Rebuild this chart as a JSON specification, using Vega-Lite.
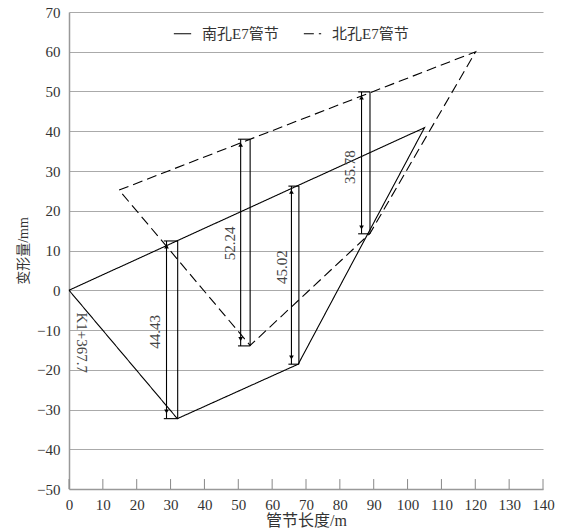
{
  "$schema": "https://vega.github.io/schema/vega-lite/v6.json",
  "width": 474,
  "height": 477,
  "autosize": "none",
  "padding": {"left": 69, "top": 12, "right": 22, "bottom": 41},
  "background": "white",
  "config": {
    "view": {"stroke": null},
    "font": "Liberation Serif, Noto Sans CJK SC",
    "axis": {"labelFont": "Liberation Serif, Noto Sans CJK SC", "titleFont": "Liberation Serif, Noto Sans CJK SC", "labelColor": "#333", "titleColor": "#333", "titleFontWeight": "normal", "domainColor": "#999", "tickColor": "#555", "gridColor": "#aaa", "labelOverlap": false}
  },
  "datasets": {
    "outline": [
      {"series": "南孔E7管节", "i": 0, "x": 0, "y": 0},
      {"series": "南孔E7管节", "i": 1, "x": 105, "y": 40.9},
      {"series": "南孔E7管节", "i": 2, "x": 67.7, "y": -18.6},
      {"series": "南孔E7管节", "i": 3, "x": 32, "y": -32.3},
      {"series": "南孔E7管节", "i": 4, "x": 0, "y": 0},
      {"series": "北孔E7管节", "i": 0, "x": 14.8, "y": 25.2},
      {"series": "北孔E7管节", "i": 1, "x": 120.1, "y": 60},
      {"series": "北孔E7管节", "i": 2, "x": 88.9, "y": 14.3},
      {"series": "北孔E7管节", "i": 3, "x": 53.5, "y": -13.9},
      {"series": "北孔E7管节", "i": 4, "x": 14.8, "y": 25.2}
    ],
    "dims": [
      {"x": 28.8, "x2": 28.8, "y": 12.4, "y2": -32.3},
      {"x": 32.1, "x2": 32.1, "y": 12.4, "y2": -32.3},
      {"x": 28.0, "x2": 32.1, "y": 12.4, "y2": 12.4},
      {"x": 28.0, "x2": 32.1, "y": -32.3, "y2": -32.3},
      {"x": 50.7, "x2": 50.7, "y": 38.0, "y2": -14.0},
      {"x": 53.5, "x2": 53.5, "y": 38.0, "y2": -14.0},
      {"x": 49.9, "x2": 53.5, "y": 38.0, "y2": 38.0},
      {"x": 49.9, "x2": 53.5, "y": -14.0, "y2": -14.0},
      {"x": 65.7, "x2": 65.7, "y": 26.2, "y2": -18.6},
      {"x": 67.9, "x2": 67.9, "y": 26.2, "y2": -18.6},
      {"x": 64.8, "x2": 67.9, "y": 26.2, "y2": 26.2},
      {"x": 64.8, "x2": 67.9, "y": -18.6, "y2": -18.6},
      {"x": 86.4, "x2": 86.4, "y": 49.9, "y2": 14.2},
      {"x": 88.9, "x2": 88.9, "y": 49.9, "y2": 14.2},
      {"x": 85.4, "x2": 88.9, "y": 49.9, "y2": 49.9},
      {"x": 85.4, "x2": 88.9, "y": 14.2, "y2": 14.2}
    ],
    "xticks": [
      {"x": 0, "y": -50, "y2": -47.5}, {"x": 10, "y": -50, "y2": -47.5}, {"x": 20, "y": -50, "y2": -47.5},
      {"x": 30, "y": -50, "y2": -47.5}, {"x": 40, "y": -50, "y2": -47.5}, {"x": 50, "y": -50, "y2": -47.5},
      {"x": 60, "y": -50, "y2": -47.5}, {"x": 70, "y": -50, "y2": -47.5}, {"x": 80, "y": -50, "y2": -47.5},
      {"x": 90, "y": -50, "y2": -47.5}, {"x": 100, "y": -50, "y2": -47.5}, {"x": 110, "y": -50, "y2": -47.5},
      {"x": 120, "y": -50, "y2": -47.5}, {"x": 130, "y": -50, "y2": -47.5}, {"x": 140, "y": -50, "y2": -47.5}
    ],
    "arrows": [
      {"x": 28.8, "y": 11.0, "dir": "triangle-up"},
      {"x": 28.8, "y": -30.5, "dir": "triangle-down"},
      {"x": 50.7, "y": 36.6, "dir": "triangle-up"},
      {"x": 50.7, "y": -12.3, "dir": "triangle-down"},
      {"x": 65.7, "y": 24.8, "dir": "triangle-up"},
      {"x": 65.7, "y": -16.9, "dir": "triangle-down"},
      {"x": 86.4, "y": 48.5, "dir": "triangle-up"},
      {"x": 86.4, "y": 15.8, "dir": "triangle-down"}
    ],
    "labels": [
      {"x": 25.4, "y": -10.5, "t": "44.43"},
      {"x": 47.6, "y": 11.8, "t": "52.24"},
      {"x": 62.8, "y": 5.8, "t": "45.02"},
      {"x": 83.0, "y": 31.0, "t": "35.78"}
    ],
    "side": [
      {"x": 3.8, "y": -13.2, "t": "K1+367.7"}
    ]
  },
  "encoding": {
    "x": {"field": "x", "type": "quantitative", "scale": {"domain": [0, 140], "nice": false},
      "axis": {"values": [0,10,20,30,40,50,60,70,80,90,100,110,120,130,140], "grid": false, "ticks": false, "labelPadding": 8, "labelFontSize": 15, "title": "管节长度/m", "titleFontSize": 16, "titlePadding": 0, "labelFlush": false, "domainWidth": 1.5}},
    "y": {"field": "y", "type": "quantitative", "scale": {"domain": [-50, 70], "nice": false},
      "axis": {"values": [-50,-40,-30,-20,-10,0,10,20,30,40,50,60,70], "ticks": false, "grid": true, "labelPadding": 9, "labelFontSize": 15, "title": "变形量/mm", "titleFontSize": 14, "titlePadding": 6, "domainWidth": 1.5}}
  },
  "layer": [
    {
      "data": {"name": "xticks"},
      "mark": {"type": "rule", "color": "#888", "strokeWidth": 1},
      "encoding": {
        "y2": {"field": "y2"}
      }
    },
    {
      "data": {"name": "outline"},
      "mark": {"type": "line", "color": "black", "strokeWidth": 1.1},
      "encoding": {
        "order": {"field": "i", "type": "quantitative"},
        "strokeDash": {"field": "series", "type": "nominal",
          "scale": {"domain": ["南孔E7管节", "北孔E7管节"], "range": [[1, 0], [10, 5]]},
          "legend": {"title": null, "orient": "none", "legendX": 104, "legendY": 12, "direction": "horizontal", "symbolType": "stroke", "symbolStrokeColor": "black", "symbolStrokeWidth": 1.1, "symbolSize": 300, "labelFontSize": 15, "labelFont": "Liberation Serif, Noto Sans CJK SC", "labelColor": "#333", "columnPadding": 22, "labelOffset": 10}}
      }
    },
    {
      "data": {"name": "dims"},
      "mark": {"type": "rule", "color": "black", "strokeWidth": 1.1},
      "encoding": {
        "x2": {"field": "x2"},
        "y2": {"field": "y2"}
      }
    },
    {
      "data": {"name": "arrows"},
      "mark": {"type": "point", "filled": true, "color": "black", "opacity": 1, "size": 22},
      "encoding": {
        "shape": {"field": "dir", "type": "nominal", "scale": null, "legend": null}
      }
    },
    {
      "data": {"name": "labels"},
      "mark": {"type": "text", "angle": 270, "fontSize": 15, "color": "#444", "align": "center", "baseline": "middle", "font": "Liberation Serif"},
      "encoding": {
        "text": {"field": "t"}
      }
    },
    {
      "data": {"name": "side"},
      "mark": {"type": "text", "angle": 90, "fontSize": 15, "color": "#444", "align": "center", "baseline": "middle", "font": "Liberation Serif"},
      "encoding": {
        "text": {"field": "t"}
      }
    }
  ]
}
